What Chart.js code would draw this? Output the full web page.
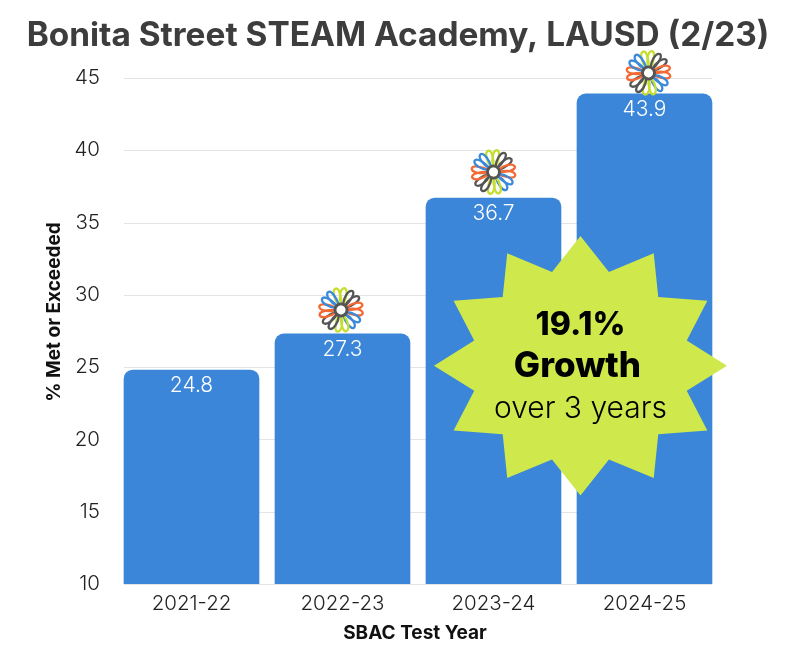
<!DOCTYPE html>
<html>
<head>
<meta charset="utf-8">
<style>
  html, body { margin: 0; padding: 0; background: #fff; }
  #wrap { width: 796px; height: 656px; }
</style>
<script src="https://cdn.jsdelivr.net/npm/chart.js@4"></script>
</head>
<body>
<div id="wrap"><canvas id="chart" width="796" height="656"></canvas></div>
<script>
const titleText = 'Bonita Street STEAM Academy, LAUSD (2/23)';
const categories = ['2021-22', '2022-23', '2023-24', '2024-25'];
const metOrExceeded = [24.8, 27.3, 36.7, 43.9];
const logoBars = [1, 2, 3];
const yTitle = '% Met or Exceeded';
const xTitle = 'SBAC Test Year';
const burstLines = ['19.1%', 'Growth', 'over 3 years'];

const BLUE = '#3b86d8';
const LIME = '#cfe84b';
const FONT = 'Inter';

// gridlines only run from the first bar's left edge to the last bar's right edge
const gridPlugin = {
  id: 'shortGrid',
  beforeDatasetsDraw(chart) {
    const { ctx, scales: { y } } = chart;
    const bars = chart.getDatasetMeta(0).data;
    const left = bars[0].x - bars[0].width / 2;
    const right = bars[3].x + bars[3].width / 2;
    ctx.save();
    ctx.strokeStyle = '#e4e4e4';
    ctx.lineWidth = 1;
    y.ticks.forEach(t => {
      const py = Math.round(y.getPixelForValue(t.value)) + 0.5;
      ctx.beginPath();
      ctx.moveTo(left, py);
      ctx.lineTo(right, py);
      ctx.stroke();
    });
    ctx.restore();
  }
};

// the title and axis titles are off-centre in the picture, so they go here and not in options
const titles = {
  id: 'titles',
  afterDraw(chart) {
    const { ctx } = chart;
    ctx.save();
    ctx.textAlign = 'center';
    ctx.textBaseline = 'middle';
    ctx.fillStyle = '#3d3d3d';
    ctx.font = '700 33.4px ' + FONT;
    ctx.fillText(titleText, chart.width / 2, 36);
    ctx.fillStyle = '#111';
    ctx.font = '700 19px ' + FONT;
    ctx.fillText(xTitle, 415, 633);
    ctx.translate(54, 312);
    ctx.rotate(-Math.PI / 2);
    ctx.fillText(yTitle, 0, 0);
    ctx.restore();
  }
};

const valueLabels = {
  id: 'valueLabels',
  afterDatasetsDraw(chart) {
    const { ctx } = chart;
    ctx.save();
    ctx.fillStyle = '#fff';
    ctx.font = '300 21px ' + FONT;
    ctx.textAlign = 'center';
    ctx.textBaseline = 'middle';
    chart.getDatasetMeta(0).data.forEach((bar, i) => {
      ctx.fillText(metOrExceeded[i].toFixed(1), bar.x, bar.y + 16);
    });
    ctx.restore();
  }
};

function drawLogo(ctx, cx, cy) {
  const colors = ['#c6dd2e', '#555555', '#f26b36', '#3b8ad9'];
  ctx.save();
  ctx.translate(cx, cy);
  ctx.lineWidth = 2.3;
  ctx.lineCap = 'round';
  for (let i = 0; i < 8; i++) {
    ctx.strokeStyle = colors[i % 4];
    [-0.2, 0.2].forEach(side => {
      ctx.save();
      ctx.rotate(i * Math.PI / 4 + side);
      ctx.beginPath();
      ctx.moveTo(-1, -5);
      ctx.bezierCurveTo(-5, -12, -5, -21, -1, -22);
      ctx.bezierCurveTo(3, -22, 3, -12, 1, -5);
      ctx.stroke();
      ctx.restore();
    });
  }
  ctx.lineWidth = 3;
  ctx.strokeStyle = '#555555';
  ctx.beginPath();
  ctx.arc(0, 0, 6, 0, Math.PI * 2);
  ctx.stroke();
  ctx.fillStyle = '#fff';
  ctx.beginPath();
  ctx.arc(0, 0, 4.5, 0, Math.PI * 2);
  ctx.fill();
  ctx.restore();
}

const logos = {
  id: 'logos',
  afterDatasetsDraw(chart) {
    const bars = chart.getDatasetMeta(0).data;
    const shift = { 1: [-1.5, -24], 2: [0, -26], 3: [4, -21] };
    logoBars.forEach(i => drawLogo(chart.ctx, bars[i].x + shift[i][0], bars[i].y + shift[i][1]));
  }
};

const burst = {
  id: 'burst',
  afterDraw(chart) {
    const { ctx, scales: { x, y } } = chart;
    const cx = x.getPixelForValue(2.576);
    const cy = y.getPixelForValue(25.1);
    ctx.save();
    ctx.fillStyle = LIME;
    ctx.beginPath();
    for (let i = 0; i < 24; i++) {
      const a = i * Math.PI / 12;
      const rx = i % 2 ? 110 : 146.5;
      const ry = i % 2 ? 97 : 129.7;
      ctx.lineTo(cx + rx * Math.cos(a), cy + ry * Math.sin(a));
    }
    ctx.closePath();
    ctx.fill();
    ctx.fillStyle = '#000';
    ctx.textAlign = 'center';
    ctx.textBaseline = 'middle';
    ctx.font = '800 32px ' + FONT;
    ctx.fillText(burstLines[0], cx, cy - 40);
    ctx.font = '800 35px ' + FONT;
    ctx.fillText(burstLines[1], cx - 3, cy + 1);
    ctx.font = '300 30px ' + FONT;
    ctx.fillText(burstLines[2], cx, cy + 43);
    ctx.restore();
  }
};

new Chart(document.getElementById('chart'), {
  type: 'bar',
  data: {
    labels: categories,
    datasets: [{
      data: metOrExceeded,
      backgroundColor: BLUE,
      borderRadius: { topLeft: 9, topRight: 9 },
      borderSkipped: false,
      barThickness: 135
    }]
  },
  options: {
    responsive: false,
    animation: false,
    layout: { padding: { left: 0, right: 76, top: 78, bottom: 0 } },
    plugins: {
      legend: { display: false },
      tooltip: { enabled: false }
    },
    scales: {
      x: {
        grid: { display: false },
        border: { display: false },
        ticks: { color: '#222', font: { family: FONT, weight: '300', size: 20.5 }, padding: 0 },
        afterFit(s) { s.height = 72; }
      },
      y: {
        min: 10,
        max: 45,
        grid: { display: false },
        border: { display: false },
        ticks: { stepSize: 5, color: '#222', font: { family: FONT, weight: '300', size: 20.5 }, padding: 8 },
        afterFit(s) { s.width = 116; }
      }
    }
  },
  plugins: [gridPlugin, valueLabels, logos, burst, titles]
});
</script>
</body>
</html>
